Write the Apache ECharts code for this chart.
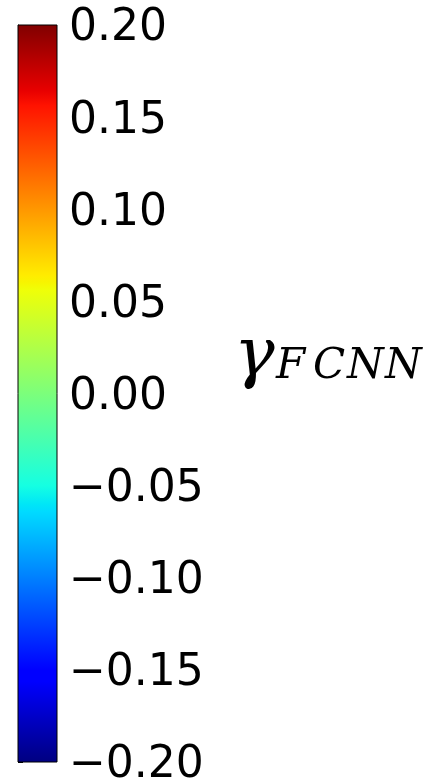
<!DOCTYPE html>
<html>
<head>
<meta charset="utf-8">
<script src="https://cdn.jsdelivr.net/npm/echarts@6/dist/echarts.min.js"></script>
<style>html,body{margin:0;padding:0;background:#fff}#c{width:443px;height:784px}</style>
</head>
<body>
<div id="c"></div>
<script>
// Colorbar range and ticks
const cbarRange = [-0.2, 0.2];
const tickValues = [-0.20, -0.15, -0.10, -0.05, 0.00, 0.05, 0.10, 0.15, 0.20];
const cbarLabel = 'γ';
const cbarSub = ['F', 'C', 'N', 'N'];
// jet colormap breakpoints (fraction, colour)
const jetPos = [0, 0.11, 0.125, 0.34, 0.35, 0.375, 0.64, 0.65, 0.66, 0.89, 0.91, 1];
const jetCol = ['#000080', '#0000ff', '#0000ff', '#00dbff', '#00e6f7', '#15ffe2', '#efff08', '#f7f500', '#ffec00', '#ff1300', '#e80000', '#800000'];

const chart = echarts.init(document.getElementById('c'));
const stops = jetPos.map((p, i) => ({ offset: 1 - p, color: jetCol[i] })).reverse();
const fmt = v => {
  const s = Math.abs(v).toFixed(2);
  return '{v|' + (v < -1e-9 ? '\u2212' : '') + s + '}';
};
const subX = [276, 313, 347, 385];
const graphics = [{
  type: 'text', left: 234, top: 323,
  style: { text: cbarLabel, font: 'italic 68px "DejaVu Serif"', fill: '#000' }
}].concat(cbarSub.map((ch, i) => ({
  type: 'text', left: subX[i], top: 346,
  style: { text: ch, font: 'italic 42px "DejaVu Serif"', fill: '#000' }
})));

chart.setOption({
  animation: false,
  grid: { left: 18, top: 25, width: 39, height: 737, containLabel: false, outerBoundsMode: 'none' },
  xAxis: { type: 'value', min: 0, max: 1, show: false },
  yAxis: {
    type: 'value', position: 'right', min: cbarRange[0], max: cbarRange[1], interval: 0.05,
    splitLine: { show: false },
    axisLine: { show: true, lineStyle: { color: '#000', width: 1 } },
    axisTick: { show: true, length: 5, lineStyle: { color: '#000', width: 1 } },
    axisLabel: { margin: 12, color: '#000', formatter: fmt, customValues: tickValues,
      rich: { v: { fontSize: 44, fontFamily: 'DejaVu Sans', color: '#000', lineHeight: 44, padding: [8, 0, 0, 0] } } },
  },
  series: [{
    type: 'custom',
    data: [[0, cbarRange[0], 1, cbarRange[1]]],
    renderItem: (params, api) => {
      const p0 = api.coord([api.value(0), api.value(1)]);
      const p1 = api.coord([api.value(2), api.value(3)]);
      return {
        type: 'rect',
        shape: { x: p0[0], y: p1[1], width: p1[0] - p0[0], height: p0[1] - p1[1] },
        style: {
          fill: new echarts.graphic.LinearGradient(0, 0, 0, 1, stops),
          stroke: '#000', lineWidth: 1
        }
      };
    }
  }],
  graphic: graphics
});
</script>
</body>
</html>
